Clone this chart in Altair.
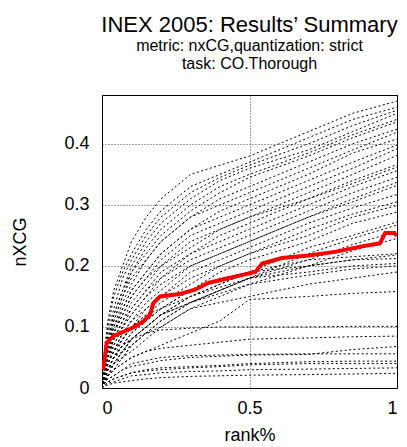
import altair as alt
import pandas as pd

# common rank% grid for the run curves
rank = [0, 0.01, 0.02, 0.04, 0.07, 0.1, 0.15, 0.2, 0.3, 0.4, 0.5, 0.7, 0.85, 1.0]

runs = {
    "r01": [0.0, 0.07, 0.11, 0.16, 0.20, 0.24, 0.28, 0.31, 0.35, 0.365, 0.38, 0.42, 0.45, 0.47],
    "r02": [0.0, 0.06, 0.10, 0.15, 0.19, 0.22, 0.26, 0.29, 0.33, 0.35, 0.37, 0.41, 0.44, 0.46],
    "r03": [0.0, 0.05, 0.09, 0.13, 0.18, 0.21, 0.25, 0.28, 0.32, 0.345, 0.365, 0.40, 0.43, 0.455],
    "r04": [0.0, 0.05, 0.08, 0.12, 0.16, 0.20, 0.24, 0.27, 0.31, 0.34, 0.36, 0.39, 0.42, 0.45],
    "r05": [0.0, 0.04, 0.07, 0.11, 0.15, 0.19, 0.23, 0.26, 0.30, 0.33, 0.35, 0.385, 0.415, 0.44],
    "r06": [0.0, 0.05, 0.08, 0.12, 0.16, 0.19, 0.22, 0.25, 0.29, 0.32, 0.345, 0.38, 0.41, 0.436],
    "r07": [0.0, 0.04, 0.07, 0.11, 0.15, 0.18, 0.21, 0.24, 0.28, 0.31, 0.33, 0.37, 0.40, 0.424],
    "r08": [0.0, 0.03, 0.06, 0.10, 0.14, 0.17, 0.21, 0.24, 0.28, 0.30, 0.32, 0.36, 0.39, 0.419],
    "r09": [0.0, 0.04, 0.07, 0.10, 0.13, 0.16, 0.19, 0.22, 0.26, 0.29, 0.31, 0.35, 0.385, 0.408],
    "r10": [0.0, 0.03, 0.06, 0.09, 0.13, 0.16, 0.19, 0.22, 0.26, 0.28, 0.30, 0.34, 0.37, 0.398],
    "r11": [0.0, 0.03, 0.05, 0.09, 0.12, 0.15, 0.18, 0.21, 0.25, 0.27, 0.29, 0.33, 0.36, 0.392],
    "r12": [0.0, 0.04, 0.06, 0.09, 0.12, 0.15, 0.18, 0.20, 0.24, 0.26, 0.28, 0.32, 0.35, 0.381],
    "r13": [0.0, 0.03, 0.05, 0.08, 0.11, 0.14, 0.17, 0.20, 0.23, 0.26, 0.28, 0.31, 0.34, 0.366],
    "r14": [0.0, 0.03, 0.05, 0.08, 0.11, 0.13, 0.16, 0.19, 0.22, 0.25, 0.27, 0.31, 0.335, 0.362],
    "r15": [0.0, 0.03, 0.05, 0.08, 0.10, 0.13, 0.16, 0.18, 0.22, 0.24, 0.26, 0.30, 0.33, 0.356],
    "r16": [0.0, 0.02, 0.04, 0.07, 0.10, 0.12, 0.15, 0.18, 0.21, 0.23, 0.25, 0.29, 0.32, 0.345],
    "r17": [0.0, 0.03, 0.05, 0.07, 0.10, 0.12, 0.15, 0.17, 0.20, 0.22, 0.24, 0.28, 0.31, 0.337],
    "r18": [0.0, 0.02, 0.04, 0.06, 0.09, 0.11, 0.14, 0.16, 0.20, 0.22, 0.24, 0.28, 0.305, 0.332],
    "r19": [0.0, 0.02, 0.04, 0.06, 0.09, 0.11, 0.13, 0.15, 0.19, 0.21, 0.23, 0.27, 0.295, 0.317],
    "r20": [0.0, 0.02, 0.04, 0.06, 0.08, 0.10, 0.13, 0.15, 0.18, 0.20, 0.22, 0.26, 0.285, 0.305],
    "r21": [0.0, 0.02, 0.03, 0.05, 0.08, 0.10, 0.12, 0.14, 0.17, 0.20, 0.22, 0.25, 0.28, 0.299],
    "r22": [0.0, 0.02, 0.03, 0.05, 0.07, 0.09, 0.11, 0.13, 0.16, 0.19, 0.21, 0.24, 0.27, 0.288],
    "r23": [0.0, 0.01, 0.03, 0.05, 0.07, 0.08, 0.10, 0.12, 0.15, 0.17, 0.19, 0.23, 0.25, 0.272],
    "r24": [0.0, 0.02, 0.03, 0.05, 0.06, 0.08, 0.10, 0.12, 0.14, 0.16, 0.18, 0.22, 0.245, 0.267],
    "r25": [0.0, 0.01, 0.03, 0.04, 0.06, 0.07, 0.09, 0.11, 0.14, 0.16, 0.18, 0.21, 0.235, 0.257],
    "r26": [0.0, 0.01, 0.02, 0.04, 0.05, 0.07, 0.09, 0.10, 0.13, 0.15, 0.17, 0.20, 0.225, 0.245],
    "r27": [0.0, 0.02, 0.03, 0.05, 0.07, 0.09, 0.11, 0.13, 0.16, 0.18, 0.19, 0.20, 0.21, 0.218],
    "r28": [0.0, 0.02, 0.03, 0.04, 0.06, 0.08, 0.10, 0.12, 0.15, 0.165, 0.18, 0.19, 0.20, 0.204],
    "r29": [0.0, 0.01, 0.02, 0.04, 0.05, 0.07, 0.09, 0.11, 0.14, 0.155, 0.17, 0.185, 0.195, 0.20],
    "r30": [0.0, 0.01, 0.02, 0.03, 0.05, 0.06, 0.08, 0.10, 0.13, 0.14, 0.15, 0.17, 0.18, 0.19],
    "r31": [0.0, 0.01, 0.02, 0.03, 0.04, 0.05, 0.06, 0.07, 0.09, 0.11, 0.145, 0.15, 0.155, 0.158],
    "r32": [0.0, 0.02, 0.03, 0.05, 0.07, 0.08, 0.09, 0.095, 0.098, 0.10, 0.10, 0.10, 0.101, 0.101],
    "r33": [0.0, 0.01, 0.02, 0.03, 0.04, 0.05, 0.06, 0.065, 0.07, 0.075, 0.08, 0.082, 0.084, 0.085],
    "r34": [0.0, 0.01, 0.015, 0.02, 0.03, 0.035, 0.04, 0.045, 0.05, 0.052, 0.054, 0.055, 0.063, 0.068],
    "r35": [0.0, 0.01, 0.015, 0.02, 0.03, 0.04, 0.045, 0.05, 0.053, 0.054, 0.055, 0.056, 0.056, 0.056],
    "r36": [0.0, 0.005, 0.01, 0.015, 0.02, 0.025, 0.03, 0.033, 0.035, 0.037, 0.04, 0.043, 0.044, 0.044],
    "r37": [0.0, 0.005, 0.01, 0.015, 0.02, 0.025, 0.028, 0.03, 0.033, 0.035, 0.038, 0.04, 0.04, 0.04],
    "r38": [0.0, 0.005, 0.008, 0.01, 0.015, 0.02, 0.022, 0.025, 0.027, 0.028, 0.03, 0.031, 0.032, 0.033],
    "r39": [0.0, 0.003, 0.005, 0.008, 0.01, 0.012, 0.015, 0.017, 0.019, 0.02, 0.021, 0.022, 0.023, 0.024],
    "r40": [0.0, 0.02, 0.04, 0.06, 0.08, 0.10, 0.12, 0.13, 0.15, 0.17, 0.19, 0.21, 0.215, 0.22],
    "r41": [0.0, 0.01, 0.02, 0.04, 0.06, 0.08, 0.10, 0.12, 0.14, 0.16, 0.18, 0.20, 0.21, 0.212],
}

# highlighted run (red)
red_rank = [0.004, 0.016, 0.038, 0.106, 0.14, 0.163, 0.174, 0.197, 0.264, 0.315, 0.36,
            0.473, 0.52, 0.543, 0.61, 0.70, 0.79, 0.88, 0.942, 0.96, 0.988, 1.0]
red_nxcg = [0.03, 0.074, 0.085, 0.099, 0.109, 0.12, 0.139, 0.15, 0.154, 0.161, 0.172,
            0.185, 0.19, 0.204, 0.213, 0.217, 0.223, 0.232, 0.237, 0.254, 0.254, 0.25]

rows = []
for name, vals in runs.items():
    for i, (r, v) in enumerate(zip(rank, vals)):
        rows.append({"run": name, "rank": r, "nxcg": v, "o": i})
df = pd.DataFrame(rows)
red_df = pd.DataFrame({"rank": red_rank, "nxcg": red_nxcg, "o": list(range(len(red_rank)))})

FONT = "Liberation Sans"

xscale = alt.Scale(domain=[0, 1], nice=False, zero=False)
yscale = alt.Scale(domain=[0, 0.48], nice=False)

xaxis = alt.Axis(values=[0, 0.5, 1], format="~g", title="rank%", ticks=False,
                 grid=True, gridDash=[1, 2], gridColor="#000", gridOpacity=0.7,
                 labelPadding=11, titlePadding=9, domain=False)
yaxis = alt.Axis(values=[0, 0.1, 0.2, 0.3, 0.4], format="~g", title="nXCG", ticks=False,
                 grid=True, gridDash=[1, 2], gridColor="#000", gridOpacity=0.7,
                 labelPadding=13, titlePadding=34, domain=False)

base_lines = alt.Chart(df).mark_line(
    color="black", strokeWidth=1, strokeDash=[2, 2.5], clip=True
).encode(
    x=alt.X("rank:Q", scale=xscale, axis=xaxis),
    y=alt.Y("nxcg:Q", scale=yscale, axis=yaxis),
    detail="run:N",
    order="o:Q",
)

red_line = alt.Chart(red_df).mark_line(
    color="#ff0000", strokeWidth=4, clip=True
).encode(
    x=alt.X("rank:Q", scale=xscale),
    y=alt.Y("nxcg:Q", scale=yscale),
    order="o:Q",
)

chart = alt.layer(base_lines, red_line).properties(
    width=295,
    height=293,
    title=alt.TitleParams(
        text="INEX 2005: Results\u2019 Summary",
        subtitle=["metric: nxCG,quantization: strict", "task: CO.Thorough"],
        anchor="middle",
        fontSize=22,
        fontWeight="normal",
        font=FONT,
        color="black",
        subtitleFont=FONT,
        subtitleFontSize=16,
        subtitleColor="black",
        subtitlePadding=1,
        subtitleLineHeight=18,
        offset=22,
    ),
    autosize=alt.AutoSizeParams(type="none"),
    padding={"left": 94, "top": 87, "right": 2, "bottom": 58},
).configure_view(
    stroke="black", strokeWidth=1
).configure_axis(
    labelFont=FONT, labelFontSize=18, labelColor="black",
    titleFont=FONT, titleFontSize=18, titleFontWeight="normal", titleColor="black",
)

chart.save("out.html", embed_options={"renderer": "svg", "actions": False})
